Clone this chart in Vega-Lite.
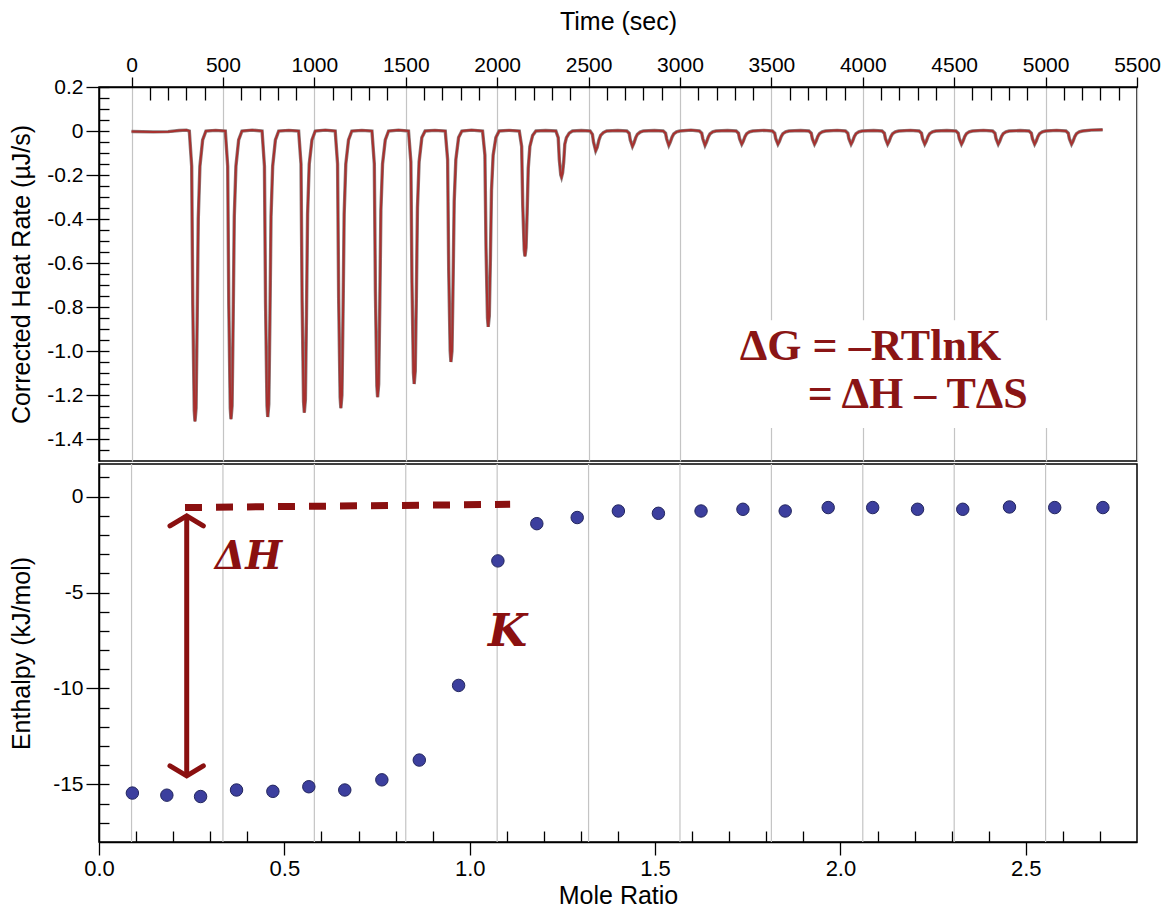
{
  "$schema": "https://vega.github.io/schema/vega-lite/v6.json",
  "padding": {"left": 8, "top": 8, "right": 27, "bottom": 5},
  "background": "white",
  "config": {
    "font": "Liberation Sans",
    "view": {"stroke": "black", "strokeWidth": 1.5},
    "axis": {
      "labelFont": "Liberation Sans", "titleFont": "Liberation Sans",
      "labelColor": "black", "titleColor": "black", "titleFontWeight": "normal",
      "tickColor": "black", "domainColor": "black", "tickWidth": 1.3, "domainWidth": 1.5,
      "labelFontSize": 21, "titleFontSize": 25, "grid": false, "labelFlush": false, "labelOverlap": false
    }
  },
  "datasets": {
    "thermo": [
      {"t":0,"q":-0.002},{"t":120,"q":-0.004},{"t":200,"q":-0.003},{"t":260,"q":0.002},{"t":300,"q":0.004},
      {"t":316,"q":0},{"t":329,"q":-0.16},{"t":335,"q":-0.79},{"t":343,"q":-1.27},{"t":347,"q":-1.32},{"t":353,"q":-1.26},{"t":359,"q":-0.86},{"t":365,"q":-0.4},{"t":374,"q":-0.16},{"t":389,"q":-0.04},{"t":407,"q":0},
      {"t":460,"q":0.003},
      {"t":513,"q":0},{"t":526,"q":-0.16},{"t":532,"q":-0.79},{"t":540,"q":-1.26},{"t":544,"q":-1.31},{"t":550,"q":-1.25},{"t":556,"q":-0.85},{"t":562,"q":-0.39},{"t":571,"q":-0.16},{"t":586,"q":-0.04},{"t":604,"q":0},
      {"t":660,"q":0.004},
      {"t":714,"q":0},{"t":727,"q":-0.16},{"t":733,"q":-0.78},{"t":741,"q":-1.25},{"t":745,"q":-1.3},{"t":751,"q":-1.24},{"t":757,"q":-0.85},{"t":763,"q":-0.39},{"t":772,"q":-0.16},{"t":787,"q":-0.04},{"t":805,"q":0},
      {"t":860,"q":0.003},
      {"t":914,"q":0},{"t":927,"q":-0.15},{"t":933,"q":-0.77},{"t":941,"q":-1.23},{"t":945,"q":-1.28},{"t":951,"q":-1.22},{"t":957,"q":-0.83},{"t":963,"q":-0.38},{"t":972,"q":-0.15},{"t":987,"q":-0.04},{"t":1005,"q":0},
      {"t":1060,"q":0.004},
      {"t":1114,"q":0},{"t":1127,"q":-0.15},{"t":1133,"q":-0.76},{"t":1141,"q":-1.21},{"t":1145,"q":-1.26},{"t":1151,"q":-1.2},{"t":1157,"q":-0.82},{"t":1163,"q":-0.38},{"t":1172,"q":-0.15},{"t":1187,"q":-0.04},{"t":1205,"q":0},
      {"t":1260,"q":0.003},
      {"t":1315,"q":0},{"t":1328,"q":-0.15},{"t":1334,"q":-0.73},{"t":1342,"q":-1.16},{"t":1346,"q":-1.21},{"t":1352,"q":-1.15},{"t":1358,"q":-0.79},{"t":1364,"q":-0.36},{"t":1373,"q":-0.15},{"t":1388,"q":-0.04},{"t":1406,"q":0},
      {"t":1460,"q":0.004},
      {"t":1515,"q":0},{"t":1528,"q":-0.14},{"t":1534,"q":-0.69},{"t":1542,"q":-1.1},{"t":1546,"q":-1.15},{"t":1552,"q":-1.09},{"t":1558,"q":-0.75},{"t":1564,"q":-0.35},{"t":1573,"q":-0.14},{"t":1588,"q":-0.03},{"t":1606,"q":0},
      {"t":1660,"q":0.003},
      {"t":1716,"q":0},{"t":1729,"q":-0.13},{"t":1735,"q":-0.63},{"t":1743,"q":-1.0},{"t":1747,"q":-1.05},{"t":1753,"q":-1.0},{"t":1759,"q":-0.68},{"t":1765,"q":-0.32},{"t":1774,"q":-0.13},{"t":1789,"q":-0.03},{"t":1807,"q":0},
      {"t":1860,"q":0.004},
      {"t":1920,"q":0},{"t":1933,"q":-0.11},{"t":1939,"q":-0.53},{"t":1947,"q":-0.85},{"t":1951,"q":-0.89},{"t":1957,"q":-0.84},{"t":1963,"q":-0.58},{"t":1969,"q":-0.27},{"t":1978,"q":-0.11},{"t":1993,"q":-0.03},{"t":2011,"q":0},
      {"t":2065,"q":0.003},
      {"t":2121,"q":0},{"t":2134,"q":-0.07},{"t":2140,"q":-0.34},{"t":2148,"q":-0.54},{"t":2152,"q":-0.57},{"t":2158,"q":-0.53},{"t":2164,"q":-0.37},{"t":2170,"q":-0.17},{"t":2179,"q":-0.07},{"t":2194,"q":-0.02},{"t":2212,"q":0},
      {"t":2265,"q":0.002},
      {"t":2321,"q":0},{"t":2334,"q":-0.03},{"t":2340,"q":-0.13},{"t":2348,"q":-0.2},{"t":2352,"q":-0.21},{"t":2358,"q":-0.19},{"t":2364,"q":-0.14},{"t":2370,"q":-0.06},{"t":2379,"q":-0.03},{"t":2394,"q":-0.01},{"t":2412,"q":0},
      {"t":2460,"q":0.002},
      {"t":2508,"q":0},{"t":2521,"q":-0.015},{"t":2527,"q":-0.05},{"t":2539,"q":-0.09},{"t":2547,"q":-0.075},{"t":2557,"q":-0.04},{"t":2566,"q":-0.02},{"t":2581,"q":-0.007},{"t":2599,"q":0},
      {"t":2660,"q":0.002},
      {"t":2709,"q":0},{"t":2722,"q":-0.01},{"t":2728,"q":-0.04},{"t":2740,"q":-0.07},{"t":2748,"q":-0.055},{"t":2758,"q":-0.03},{"t":2767,"q":-0.015},{"t":2782,"q":-0.005},{"t":2800,"q":0},
      {"t":2860,"q":0.002},
      {"t":2908,"q":0},{"t":2921,"q":-0.01},{"t":2927,"q":-0.035},{"t":2939,"q":-0.065},{"t":2947,"q":-0.05},{"t":2957,"q":-0.027},{"t":2966,"q":-0.013},{"t":2981,"q":-0.004},{"t":2999,"q":0},
      {"t":3060,"q":0.004},
      {"t":3106,"q":0},{"t":3119,"q":-0.01},{"t":3125,"q":-0.035},{"t":3137,"q":-0.065},{"t":3145,"q":-0.05},{"t":3155,"q":-0.027},{"t":3164,"q":-0.013},{"t":3179,"q":-0.004},{"t":3197,"q":0},
      {"t":3260,"q":0.002},
      {"t":3307,"q":0},{"t":3320,"q":-0.01},{"t":3326,"q":-0.035},{"t":3338,"q":-0.06},{"t":3346,"q":-0.047},{"t":3356,"q":-0.025},{"t":3365,"q":-0.012},{"t":3380,"q":-0.004},{"t":3398,"q":0},
      {"t":3460,"q":0.003},
      {"t":3505,"q":0},{"t":3518,"q":-0.01},{"t":3524,"q":-0.035},{"t":3536,"q":-0.06},{"t":3544,"q":-0.047},{"t":3554,"q":-0.025},{"t":3563,"q":-0.012},{"t":3578,"q":-0.004},{"t":3596,"q":0},
      {"t":3660,"q":0.002},
      {"t":3705,"q":0},{"t":3718,"q":-0.01},{"t":3724,"q":-0.035},{"t":3736,"q":-0.06},{"t":3744,"q":-0.047},{"t":3754,"q":-0.025},{"t":3763,"q":-0.012},{"t":3778,"q":-0.004},{"t":3796,"q":0},
      {"t":3860,"q":0.003},
      {"t":3905,"q":0},{"t":3918,"q":-0.01},{"t":3924,"q":-0.035},{"t":3936,"q":-0.06},{"t":3944,"q":-0.047},{"t":3954,"q":-0.025},{"t":3963,"q":-0.012},{"t":3978,"q":-0.004},{"t":3996,"q":0},
      {"t":4060,"q":0.002},
      {"t":4105,"q":0},{"t":4118,"q":-0.01},{"t":4124,"q":-0.035},{"t":4136,"q":-0.06},{"t":4144,"q":-0.047},{"t":4154,"q":-0.025},{"t":4163,"q":-0.012},{"t":4178,"q":-0.004},{"t":4196,"q":0},
      {"t":4260,"q":0.003},
      {"t":4308,"q":0},{"t":4321,"q":-0.01},{"t":4327,"q":-0.035},{"t":4339,"q":-0.06},{"t":4347,"q":-0.047},{"t":4357,"q":-0.025},{"t":4366,"q":-0.012},{"t":4381,"q":-0.004},{"t":4399,"q":0},
      {"t":4460,"q":0.002},
      {"t":4509,"q":0},{"t":4522,"q":-0.01},{"t":4528,"q":-0.035},{"t":4540,"q":-0.06},{"t":4548,"q":-0.047},{"t":4558,"q":-0.025},{"t":4567,"q":-0.012},{"t":4582,"q":-0.004},{"t":4600,"q":0},
      {"t":4660,"q":0.003},
      {"t":4710,"q":0},{"t":4723,"q":-0.01},{"t":4729,"q":-0.035},{"t":4741,"q":-0.06},{"t":4749,"q":-0.047},{"t":4759,"q":-0.025},{"t":4768,"q":-0.012},{"t":4783,"q":-0.004},{"t":4801,"q":0},
      {"t":4860,"q":0.002},
      {"t":4909,"q":0},{"t":4922,"q":-0.01},{"t":4928,"q":-0.035},{"t":4940,"q":-0.06},{"t":4948,"q":-0.047},{"t":4958,"q":-0.025},{"t":4967,"q":-0.012},{"t":4982,"q":-0.004},{"t":5000,"q":0},
      {"t":5060,"q":0.003},
      {"t":5111,"q":0},{"t":5124,"q":-0.01},{"t":5130,"q":-0.035},{"t":5142,"q":-0.06},{"t":5150,"q":-0.047},{"t":5160,"q":-0.025},{"t":5169,"q":-0.012},{"t":5184,"q":-0.004},{"t":5202,"q":0},
      {"t":5250,"q":0.004},{"t":5312,"q":0.006}
    ],
    "enth": [
      {"m":0.090,"h":-15.45},{"m":0.183,"h":-15.56},{"m":0.274,"h":-15.63},{"m":0.371,"h":-15.29},{"m":0.469,"h":-15.36},
      {"m":0.566,"h":-15.12},{"m":0.663,"h":-15.29},{"m":0.763,"h":-14.76},{"m":0.864,"h":-13.73},{"m":0.970,"h":-9.84},
      {"m":1.076,"h":-3.35},{"m":1.181,"h":-1.41},{"m":1.290,"h":-1.09},{"m":1.401,"h":-0.75},{"m":1.509,"h":-0.87},
      {"m":1.624,"h":-0.75},{"m":1.737,"h":-0.66},{"m":1.851,"h":-0.75},{"m":1.967,"h":-0.57},{"m":2.087,"h":-0.57},
      {"m":2.208,"h":-0.66},{"m":2.330,"h":-0.66},{"m":2.456,"h":-0.54},{"m":2.578,"h":-0.57},{"m":2.708,"h":-0.57}
    ],
    "tgrid": [{"t":0},{"t":500},{"t":1000},{"t":1500},{"t":2000},{"t":2500},{"t":3000},{"t":3500},{"t":4000},{"t":4500},{"t":5000}],
    "tbox": [{"t1":3250,"t2":5150,"q1":-0.86,"q2":-1.35}],
    "eq": [{"label":"ΔG = –RTlnK","t":3327,"q":-1.04},{"label":"= ΔH – TΔS","t":3699,"q":-1.26}],
    "dash": [{"m":0.232,"h":-0.57},{"m":1.109,"h":-0.40}],
    "shaft": [{"m":0.2366,"h":-1.05,"h2":-14.5}],
    "chev": [
      {"g":"top","m":0.1915,"h":-1.53},{"g":"top","m":0.2366,"h":-1.0},{"g":"top","m":0.2814,"h":-1.53},
      {"g":"bot","m":0.1915,"h":-14.03},{"g":"bot","m":0.2366,"h":-14.55},{"g":"bot","m":0.2814,"h":-14.03}
    ],
    "dh": [{"label":"ΔH","m":0.313,"h":-3.77}],
    "kk": [{"label":"K","m":1.049,"h":-7.78}]
  },
  "vconcat": [
    {
      "width": 1038, "height": 374,
      "layer": [
        {
          "data": {"name": "thermo"},
          "mark": {"type": "line", "color": "#8c7f7f", "strokeWidth": 3.4},
          "encoding": {
            "x": {"field": "t", "type": "quantitative", "scale": {"domain": [-178, 5500], "nice": false, "zero": false},
              "axis": {"orient": "top", "values": [0,500,1000,1500,2000,2500,3000,3500,4000,4500,5000,5500], "format": "d", "title": "Time (sec)", "tickSize": 10, "labelPadding": 2, "titlePadding": 20, "grid": true, "gridColor": "#c4c4c4", "gridWidth": 1.2}},
            "y": {"field": "q", "type": "quantitative", "scale": {"domain": [-1.5, 0.2], "nice": false, "zero": false},
              "axis": {"orient": "left", "values": [-1.4,-1.2,-1.0,-0.8,-0.6,-0.4,-0.2,0,0.2], "labelExpr": "datum.value == 0 ? '0' : (datum.value < 0 ? '-' : '') + format(abs(datum.value), '.1f')", "title": "Corrected Heat Rate (µJ/s)", "tickSize": 13, "labelPadding": 3, "titlePadding": 12}}
          }
        },
        {
          "data": {"name": "thermo"},
          "mark": {"type": "line", "color": "#a8302e", "strokeWidth": 2},
          "encoding": {
            "x": {"field": "t", "type": "quantitative",
              "axis": {"orient": "top", "values": [100,200,300,400,600,700,800,900,1100,1200,1300,1400,1600,1700,1800,1900,2100,2200,2300,2400,2600,2700,2800,2900,3100,3200,3300,3400,3600,3700,3800,3900,4100,4200,4300,4400,4600,4700,4800,4900,5100,5200,5300,5400], "tickSize": 13, "offset": -13, "labels": false, "domain": false, "title": null, "grid": false}},
            "y": {"field": "q", "type": "quantitative",
              "axis": {"orient": "left", "values": [0.2,0.15,0.1,0.05,0,-0.05,-0.1,-0.15,-0.2,-0.25,-0.3,-0.35,-0.4,-0.45,-0.5,-0.55,-0.6,-0.65,-0.7,-0.75,-0.8,-0.85,-0.9,-0.95,-1.0,-1.05,-1.1,-1.15,-1.2,-1.25,-1.3,-1.35,-1.4,-1.45], "tickSize": 10, "offset": -10, "labels": false, "domain": false, "title": null, "grid": false}}
          }
        },
        {
          "data": {"name": "tbox"},
          "mark": {"type": "rect", "fill": "white"},
          "encoding": {
            "x": {"field": "t1", "type": "quantitative", "axis": null},
            "x2": {"field": "t2"},
            "y": {"field": "q1", "type": "quantitative", "axis": null},
            "y2": {"field": "q2"}
          }
        },
        {
          "data": {"name": "eq"},
          "mark": {"type": "text", "font": "Liberation Serif", "fontWeight": "bold", "fontSize": 44, "color": "#8a1515", "align": "left", "baseline": "alphabetic"},
          "encoding": {
            "x": {"field": "t", "type": "quantitative", "axis": null},
            "y": {"field": "q", "type": "quantitative", "axis": null},
            "text": {"field": "label"}
          }
        }
      ],
      "resolve": {"axis": {"x": "independent", "y": "independent"}}
    },
    {
      "width": 1038, "height": 378,
      "layer": [
        {
          "data": {"name": "tgrid"},
          "mark": {"type": "rule", "color": "#c4c4c4", "strokeWidth": 1.2},
          "encoding": {
            "x": {"field": "t", "type": "quantitative", "scale": {"domain": [-178, 5500], "nice": false, "zero": false}, "axis": null}
          }
        },
        {
          "layer": [
            {
              "data": {"name": "dash"},
              "mark": {"type": "line", "color": "#8a1010", "strokeWidth": 7, "strokeDash": [17, 14]},
              "encoding": {
                "x": {"field": "m", "type": "quantitative", "scale": {"domain": [0, 2.8], "nice": false, "zero": false},
                  "axis": {"orient": "bottom", "values": [0,0.5,1,1.5,2,2.5], "format": ".1f", "title": "Mole Ratio", "tickSize": 13, "labelPadding": 3, "titlePadding": 4, "labelFontSize": 22}},
                "y": {"field": "h", "type": "quantitative", "scale": {"domain": [-18, 1.7], "nice": false, "zero": false},
                  "axis": {"orient": "left", "values": [0,-5,-10,-15], "labelExpr": "(datum.value < 0 ? '-' : '') + format(abs(datum.value), 'd')", "title": "Enthalpy (kJ/mol)", "tickSize": 13, "labelPadding": 3, "titlePadding": 18}}
              }
            },
            {
              "data": {"name": "enth"},
              "mark": {"type": "point", "opacity": 0},
              "encoding": {
                "x": {"field": "m", "type": "quantitative",
                  "axis": {"orient": "bottom", "values": [0.1,0.2,0.3,0.4,0.6,0.7,0.8,0.9,1.1,1.2,1.3,1.4,1.6,1.7,1.8,1.9,2.1,2.2,2.3,2.4,2.6,2.7], "tickSize": 11, "offset": -11, "labels": false, "domain": false, "title": null, "grid": false}},
                "y": {"field": "h", "type": "quantitative",
                  "axis": {"orient": "left", "values": [1,0,-1,-2,-3,-4,-5,-6,-7,-8,-9,-10,-11,-12,-13,-14,-15,-16,-17], "tickSize": 10, "offset": -10, "labels": false, "domain": false, "title": null, "grid": false}}
              }
            },
            {
              "data": {"name": "shaft"},
              "mark": {"type": "rule", "color": "#8a1010", "strokeWidth": 5},
              "encoding": {
                "x": {"field": "m", "type": "quantitative", "axis": null},
                "y": {"field": "h", "type": "quantitative", "axis": null},
                "y2": {"field": "h2"}
              }
            },
            {
              "data": {"name": "chev"},
              "mark": {"type": "line", "color": "#8a1010", "strokeWidth": 5, "strokeCap": "round", "strokeJoin": "miter"},
              "encoding": {
                "x": {"field": "m", "type": "quantitative", "axis": null},
                "y": {"field": "h", "type": "quantitative", "axis": null},
                "detail": {"field": "g"},
                "order": {"field": "m"}
              }
            },
            {
              "data": {"name": "dh"},
              "mark": {"type": "text", "font": "DejaVu Serif", "fontWeight": "bold", "fontStyle": "italic", "fontSize": 39, "color": "#8a1010", "align": "left", "baseline": "alphabetic"},
              "encoding": {
                "x": {"field": "m", "type": "quantitative", "axis": null},
                "y": {"field": "h", "type": "quantitative", "axis": null},
                "text": {"field": "label"}
              }
            },
            {
              "data": {"name": "kk"},
              "mark": {"type": "text", "font": "DejaVu Serif", "fontWeight": "bold", "fontStyle": "italic", "fontSize": 45, "color": "#8a1010", "align": "left", "baseline": "alphabetic"},
              "encoding": {
                "x": {"field": "m", "type": "quantitative", "axis": null},
                "y": {"field": "h", "type": "quantitative", "axis": null},
                "text": {"field": "label"}
              }
            },
            {
              "data": {"name": "enth"},
              "mark": {"type": "point", "filled": true, "fill": "#3c3f9e", "stroke": "#23265e", "strokeWidth": 1, "size": 155, "opacity": 1},
              "encoding": {
                "x": {"field": "m", "type": "quantitative", "axis": null},
                "y": {"field": "h", "type": "quantitative", "axis": null}
              }
            }
          ],
          "resolve": {"axis": {"x": "independent", "y": "independent"}}
        }
      ],
      "resolve": {"scale": {"x": "independent"}}
    }
  ],
  "spacing": 0
}
